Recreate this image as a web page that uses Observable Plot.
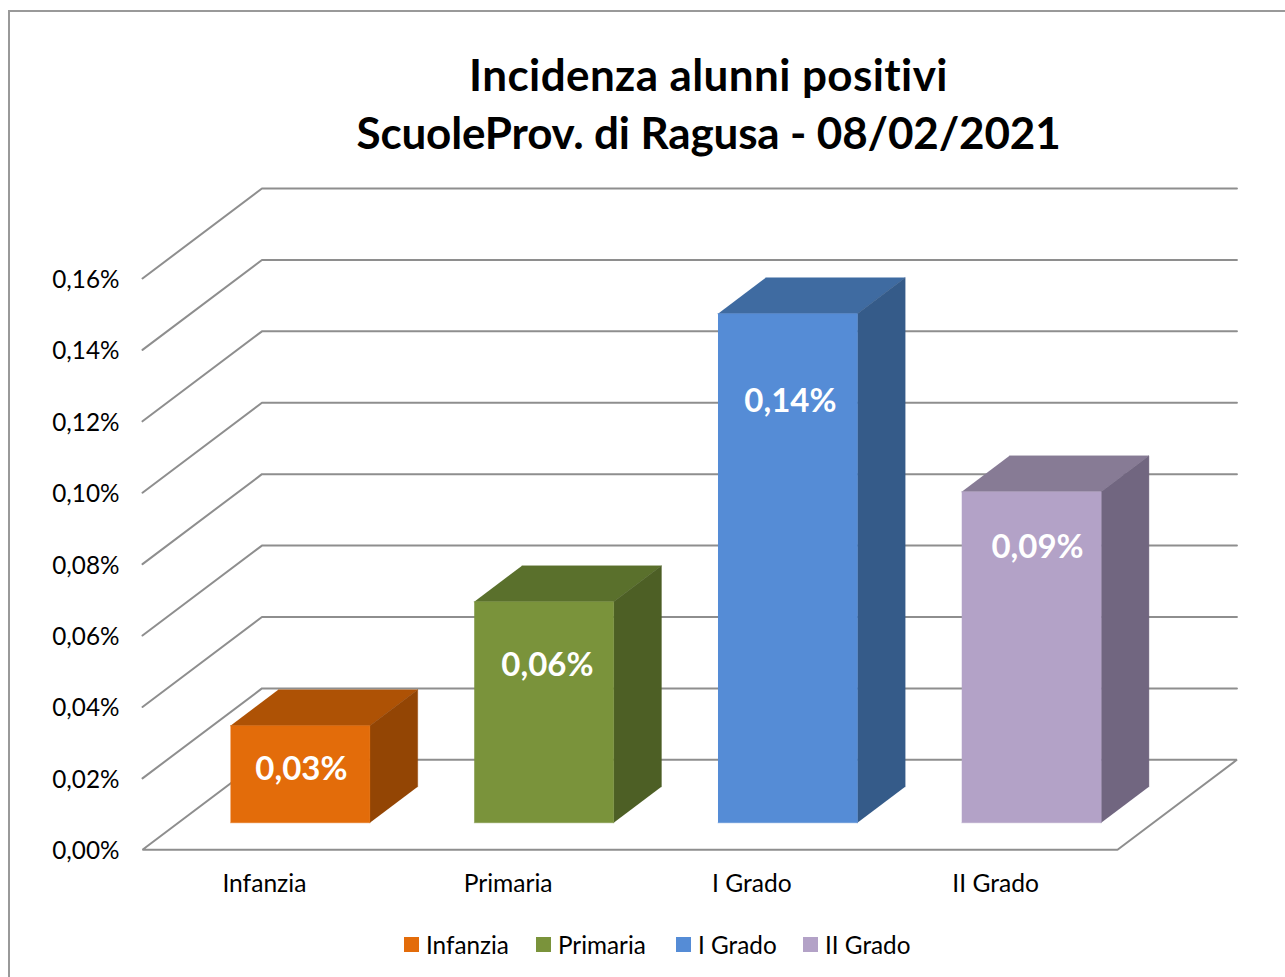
<!DOCTYPE html>
<html lang="it">
<head>
<meta charset="utf-8">
<script src="https://cdn.jsdelivr.net/npm/d3@7"></script>
<script src="https://cdn.jsdelivr.net/npm/@observablehq/plot@0.6"></script>
<style>
  html, body { margin: 0; padding: 0; background: #fff; width: 1285px; height: 977px; overflow: hidden; }
  body { font-family: Lato, sans-serif; color: #000; position: relative; font-variant-ligatures: none; }
  #frame { position: absolute; left: 8px; top: 10px; width: 1400px; height: 1200px; border: 2px solid #999; box-sizing: border-box; }
  #title { position: absolute; left: 0; top: 45px; width: 1417px; text-align: center; font-weight: 700; font-size: 44px; line-height: 58px; }
  #title .a { letter-spacing: 0.4px; }
  #title .b { letter-spacing: -0.15px; }
  #chart { position: absolute; left: 0; top: 165px; }
  #chart svg { display: block; background: transparent; font-family: Lato, sans-serif; font-variant-ligatures: none; }
  #legend { position: absolute; left: 0; top: 930px; width: 1285px; height: 30px; font-size: 24.3px; }
  .item { position: absolute; top: 0; height: 30px; line-height: 30px; white-space: nowrap; }
  .swatch { position: absolute; left: 0; top: 7px; width: 15px; height: 15px; }
  .item span.t { position: absolute; top: 0; }
</style>
</head>
<body>
<div id="frame"></div>
<div id="title"><span class="a">Incidenza alunni positivi</span><br><span class="b">ScuoleProv. di Ragusa - 08/02/2021</span></div>
<div id="chart"></div>
<div id="legend"></div>
<script>
const categories = ["Infanzia", "Primaria", "I Grado", "II Grado"];
const values = [0.0272, 0.0619, 0.1426, 0.0927];
const axisTicks = [0, 0.02, 0.04, 0.06, 0.08, 0.1, 0.12, 0.14, 0.16];
const frontColors = ["#E36C0A", "#7A933B", "#558CD6", "#B3A2C7"];
const topColors = ["#AE5205", "#5A702C", "#3F6BA1", "#877B95"];
const sideColors = ["#934504", "#4D5F25", "#355B89", "#716680"];
const labelCategoryPos = [0.652, 1.661, 2.658, 3.672];
const labelValuePos = [0.0224, 0.0515, 0.1255, 0.0846];
const legendLefts = [404, 536, 676, 803];

const depthX = 0.49;     // full floor depth, in category units
const depthV = 0.0252;   // full floor depth, in value units
const barWidth = 0.572;
const barFront = 0.3, barBack = 0.7;

const fmt = (v) => v.toFixed(2).replace(".", ",") + "%";
const pt = (c, v, d) => ({x: c + d * depthX, y: v + d * depthV});

const gridMarks = axisTicks.map((v) =>
  Plot.line(
    v === 0
      ? [pt(0, 0, 1), pt(0, 0, 0), pt(4, 0, 0), pt(4, 0, 1), pt(0, 0, 1)]
      : [pt(0, v, 0), pt(0, v, 1), pt(4, v, 1)],
    {x: "x", y: "y", stroke: "#8E8E8E", strokeWidth: 2, strokeLinejoin: "miter"}
  )
);

const barMarks = values.flatMap((v, i) => {
  const c0 = i + 0.5 - barWidth / 2, c1 = i + 0.5 + barWidth / 2;
  const face = (pts, color) =>
    Plot.line(pts, {x: "x", y: "y", fill: color, stroke: color, strokeWidth: 0.4});
  return [
    face([pt(c0, v, barFront), pt(c1, v, barFront), pt(c1, v, barBack), pt(c0, v, barBack)], topColors[i]),
    face([pt(c1, 0, barFront), pt(c1, v, barFront), pt(c1, v, barBack), pt(c1, 0, barBack)], sideColors[i]),
    face([pt(c0, 0, barFront), pt(c1, 0, barFront), pt(c1, v, barFront), pt(c0, v, barFront)], frontColors[i])
  ];
});

const chart = Plot.plot({
  width: 1285,
  height: 750,
  marginLeft: 119,
  marginRight: 0,
  marginTop: 0,
  marginBottom: 40.5,
  style: {background: "transparent", fontFamily: "Lato, sans-serif", fontSize: "24.3px", color: "#000"},
  x: {domain: [0, 4], range: [142, 1117], axis: null},
  y: {domain: [0, 0.16], range: [684.3, 113], axis: null},
  marks: [
    ...gridMarks,
    ...barMarks,
    Plot.axisY({
      ticks: axisTicks, tickSize: 0, tickPadding: 0, anchor: "left", dy: 1.7,
      tickFormat: fmt, label: null, fontSize: 24.3, fill: "#000"
    }),
    Plot.axisX({
      ticks: categories.map((_, i) => i + 0.5), tickSize: 0, tickPadding: 0, anchor: "bottom",
      tickFormat: (t) => categories[Math.floor(t)], label: null, fontSize: 24.6, fill: "#000"
    }),
    Plot.text(values, {
      x: (_, i) => labelCategoryPos[i],
      y: (_, i) => labelValuePos[i],
      text: (v) => fmt(v),
      fill: "#fff",
      fontWeight: 700,
      fontSize: 33,
      textAnchor: "middle",
      lineAnchor: "middle"
    })
  ]
});
document.getElementById("chart").appendChild(chart);

const legend = document.getElementById("legend");
categories.forEach((name, i) => {
  const item = document.createElement("div");
  item.className = "item";
  item.style.left = legendLefts[i] + "px";
  item.innerHTML = `<div class="swatch" style="background:${frontColors[i]}"></div><span class="t" style="left:22px">${name}</span>`;
  legend.appendChild(item);
});
</script>
</body>
</html>
